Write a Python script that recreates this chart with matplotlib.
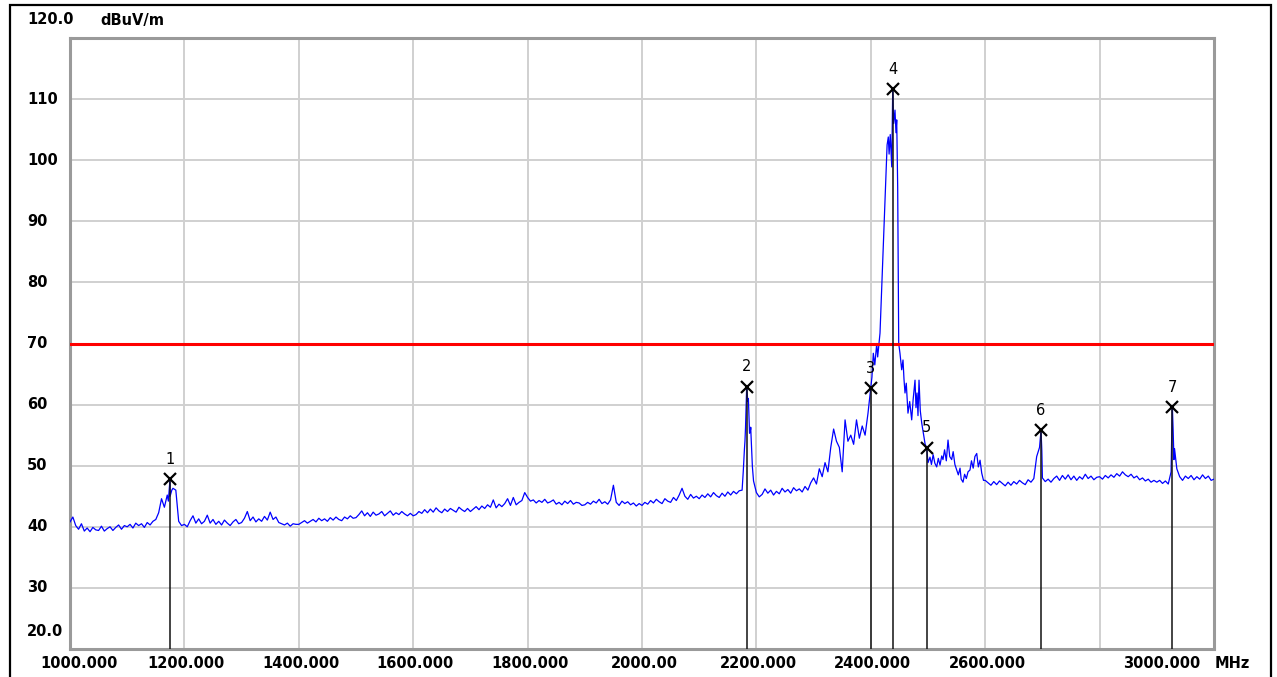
import numpy as np
import matplotlib
matplotlib.use("Agg")
import matplotlib.pyplot as plt
from matplotlib.patches import Rectangle

# base trace, 5 MHz steps, one row per 100 MHz (dBuV/m)
base_lo = [
    # 1000
    40.8, 41.6, 40.2, 39.6, 40.5, 39.3, 39.8, 39.2, 39.9, 39.5, 39.4, 40.1, 39.3, 39.7, 40.0, 39.4, 39.9, 40.3, 39.6, 40.2,
    # 1100
    40.0, 40.4, 39.8, 40.6, 40.2, 40.5, 39.9, 40.7, 40.3, 40.9, 41.2, 42.3, 44.6, 43.2, 45.2, 45.0, 46.3, 46.0, 40.9, 40.2,
    # 1200
    40.4, 40.0, 41.0, 41.8, 40.6, 41.3, 40.5, 40.9, 41.9, 40.6, 41.2, 40.4, 40.9, 40.3, 41.1, 40.6, 40.2, 40.8, 41.2, 40.5,
    # 1300
    40.7, 41.4, 42.5, 41.0, 41.6, 40.8, 41.3, 40.9, 41.7, 41.1, 42.4, 41.2, 41.6, 40.7, 40.5, 40.3, 40.6, 40.1, 40.5, 40.4,
    # 1400
    40.4, 40.7, 41.0, 40.6, 40.9, 41.2, 40.8, 41.4, 41.0, 41.3, 40.9, 41.5, 41.1, 41.6, 41.2, 41.0, 41.6, 41.3, 41.8, 41.4,
    # 1500
    41.5, 42.0, 42.6, 41.8, 42.3, 41.7, 42.4, 41.9, 42.1, 42.5, 41.8, 42.2, 42.6, 41.9, 42.3, 42.0, 42.5, 42.1, 41.8, 42.2,
    # 1600
    41.8, 42.0, 42.5, 42.2, 42.8, 42.3, 42.9, 42.4, 43.1, 42.6, 42.3, 42.9, 42.5, 43.0, 42.7, 42.4, 43.2, 42.8, 42.5, 43.0,
    # 1700
    42.5, 42.9, 43.3, 42.8, 43.4, 43.0, 43.6, 43.2, 44.4, 43.1, 43.7, 43.3, 43.8, 44.6, 43.5, 44.8, 43.6, 44.0, 44.3, 45.6,
    # 1800
    44.8, 44.2, 44.4, 43.9, 44.3, 44.0, 44.5, 43.9, 44.1, 44.4, 43.7, 44.0, 43.6, 44.2, 43.8, 44.3, 43.7, 44.0, 43.9, 43.5,
    # 1900
    43.6, 44.0, 43.7, 44.2, 43.9, 44.5, 43.8, 44.1, 43.7, 44.4, 46.8, 44.0, 43.5, 44.2, 43.8, 44.1, 43.6, 43.9, 43.4, 43.8,
    # 2000
    43.5, 44.0, 43.7, 44.3, 43.9, 44.5, 44.1, 43.8, 44.6, 44.2, 44.0, 44.8, 44.3, 45.2, 46.3, 45.0, 44.5, 45.3, 44.7, 45.0,
    # 2100
    44.6, 45.2, 44.8, 45.4, 44.9, 45.6, 45.1, 44.8, 45.5, 45.0, 45.7, 45.2, 45.8, 45.4, 45.9, 46.0, 54.0, 60.5, 56.0, 47.5,
    # 2200
    45.6, 44.9, 45.3, 46.2, 45.5, 46.0, 45.2, 45.8, 45.4, 46.3, 45.7, 46.1, 45.5, 46.4, 45.9, 46.2, 45.7, 46.6, 46.0, 47.2,
    # 2300
    48.0, 47.0, 49.5, 48.2, 50.5, 49.0, 53.0, 56.0, 54.0, 53.0, 49.0, 57.5, 54.0, 55.0, 53.5, 57.5, 54.5, 56.5, 55.0, 58.5,
]

base_hi = [
    # 2600
    47.6, 47.2, 46.8, 47.4, 46.9, 47.5, 47.1, 46.7, 47.3, 46.8, 47.4, 47.0, 47.6, 47.2, 46.9, 47.7, 47.3, 47.9, 51.5, 53.0,
    # 2700
    48.0, 47.4, 47.8, 47.3, 47.9, 48.3, 47.6, 48.4, 47.8, 48.5, 47.7, 48.3, 47.6, 48.2, 47.8, 48.6, 47.9, 48.3, 47.7, 48.1,
    # 2800
    48.2, 47.8, 48.4, 48.0, 48.5, 48.1, 48.7, 48.3, 49.0, 48.5, 48.2, 48.6, 48.0, 48.3, 47.7, 48.0, 47.5, 47.8, 47.3, 47.6,
    # 2900
    47.3, 47.6, 47.1, 47.5, 47.0, 49.0, 51.0, 49.5, 48.2, 47.6, 48.3, 47.9, 48.4, 47.7, 48.2, 47.8, 48.5, 47.9, 48.3, 47.6,
    # 3000
    47.8,
]

# 2.4 GHz band, read point by point
band_freq = [2400, 2402, 2404.4, 2407, 2410.4, 2412, 2416.1, 2419.1, 2421, 2423.1, 2426.6, 2428.5, 2430.6, 2432,
             2434, 2436.6, 2438.3, 2440, 2442.3, 2444, 2445.3, 2447, 2448.8, 2451, 2454, 2456.3, 2458, 2459.8,
             2462, 2465, 2468, 2471.5, 2474, 2477.3, 2479, 2480.8, 2482.5, 2484.3, 2486.5, 2489, 2492, 2495,
             2497.8, 2500, 2503.5, 2506, 2509, 2512, 2515.2, 2518, 2521, 2524, 2526.2, 2529, 2532, 2535, 2538,
             2541.4, 2544, 2547, 2550.2, 2553, 2556, 2558, 2561.2, 2564, 2567, 2570, 2573.4, 2576, 2579, 2582,
             2585.2, 2588, 2591, 2593.9, 2597]
band_level = [62.7, 64.5, 68.4, 66.5, 70.0, 67.8, 71.7, 79.2, 84.0, 89.0, 98.4, 102.5, 103.8, 101.0,
              104.2, 98.9, 111.6, 106.0, 108.2, 104.5, 106.6, 95.6, 70.0, 68.4, 65.7, 67.3, 64.2, 61.9,
              63.5, 58.6, 60.5, 57.5, 60.8, 64.0, 59.5, 61.9, 58.2, 64.0, 59.0, 57.0, 55.2, 53.5,
              52.9, 50.5, 51.4, 50.2, 51.8, 50.4, 49.8, 51.2, 50.1, 51.6, 51.0, 52.6, 50.8, 54.2, 51.5,
              51.0, 52.3, 50.2, 49.3, 48.5, 49.6, 47.8, 47.3, 48.6, 47.9, 49.0, 49.3, 50.8, 49.6, 51.5,
              52.0, 49.8, 50.9, 48.8, 47.6]

# narrow spikes at the other markers
spike_freq = [1172, 1174.8, 1178, 2177, 2179, 2181, 2183, 2186, 2188, 2190, 2193,
              2699, 2697.6, 2926, 2927.2, 2928.5, 2931]
spike_level = [44.2, 47.8, 46.0, 49.0, 52.6, 56.3, 62.9, 61.0, 55.3, 56.3, 49.8,
               52.5, 55.8, 54.5, 59.6, 56.0, 52.8]

# markers
mk_freq = [1174.8, 2183.0, 2400.0, 2438.3, 2497.8, 2697.6, 2927.2]
mk_level = [47.8, 62.9, 62.7, 111.6, 52.9, 55.8, 59.6]
limit = 70.0

x_ticks = [1000, 1200, 1400, 1600, 1800, 2000, 2200, 2400, 2600, 2800, 3000]
x_labels = ["1000.000", "1200.000", "1400.000", "1600.000", "1800.000", "2000.00",
            "2200.000", "2400.000", "2600.000", "", "3000.000"]
y_ticks = [30, 40, 50, 60, 70, 80, 90, 100, 110]

freq = np.concatenate([np.arange(1000, 2400, 5), np.arange(2600, 3001, 5), band_freq, spike_freq])
level = np.concatenate([base_lo, base_hi, band_level, spike_level])
order = np.argsort(freq, kind="stable")
freq = freq[order]
level = level[order]

W, H = 1277, 677
fig = plt.figure(figsize=(W / 100, H / 100), dpi=100)
ax = fig.add_axes([70 / W, 1 - 649 / H, (1214 - 70) / W, (649 - 38) / H])
ax.set_xlim(1000, 3000)
ax.set_ylim(20, 120)

ax.set_xticks(x_ticks)
ax.set_yticks(y_ticks)
ax.set_xticklabels([])
ax.set_yticklabels([])
ax.tick_params(length=0)
ax.grid(True, color="#d0d0d0", lw=1.4)
ax.set_axisbelow(True)
for s in ax.spines.values():
    s.set_color("#9a9a9a")
    s.set_linewidth(2.2)

ax.plot(freq, level, color="#0000ff", lw=0.9, zorder=3)
ax.axhline(limit, color="#ff0000", lw=2.2, zorder=4)

for i, (f, v) in enumerate(zip(mk_freq, mk_level)):
    ax.plot([f, f], [20, v], color="#111111", lw=1.1, zorder=5)
    ax.plot(f, v, marker="x", color="black", ms=8, mew=1.6, zorder=6)
    ax.annotate(str(i + 1), (f, v), xytext=(0, 9), textcoords="offset points",
                ha="center", va="bottom", fontsize=10.5, zorder=7)

tf = dict(fontsize=10.5, fontweight="bold", color="black")

# y labels, left aligned like the analyser software
for v in y_ticks:
    fig.text(27 / W, 1 - (649 - (v - 20) * 6.11) / H, str(v), ha="left", va="center", **tf)
fig.text(27 / W, 1 - 631 / H, "20.0", ha="left", va="center", **tf)
fig.text(27 / W, 1 - 20 / H, "120.0", ha="left", va="center", **tf)
fig.text(100 / W, 1 - 20 / H, "dBuV/m", ha="left", va="center", **tf)

# x labels
shift = {1000: 9, 3000: -52}
for t, lab in zip(x_ticks, x_labels):
    if not lab:
        continue
    px = 70 + (t - 1000) * 1144 / 2000 + shift.get(t, 2)
    fig.text(px / W, 1 - 663 / H, lab, ha="center", va="center", **tf)
fig.text(1232 / W, 1 - 663 / H, "MHz", ha="center", va="center", **tf)

# outer frame of the report picture
fig.patches.append(Rectangle((10 / W, -0.02), (1271 - 10) / W, (677 - 5) / H + 0.02,
                             transform=fig.transFigure, fill=False, ec="black", lw=1.6))

fig.savefig("out.png", dpi=100)
